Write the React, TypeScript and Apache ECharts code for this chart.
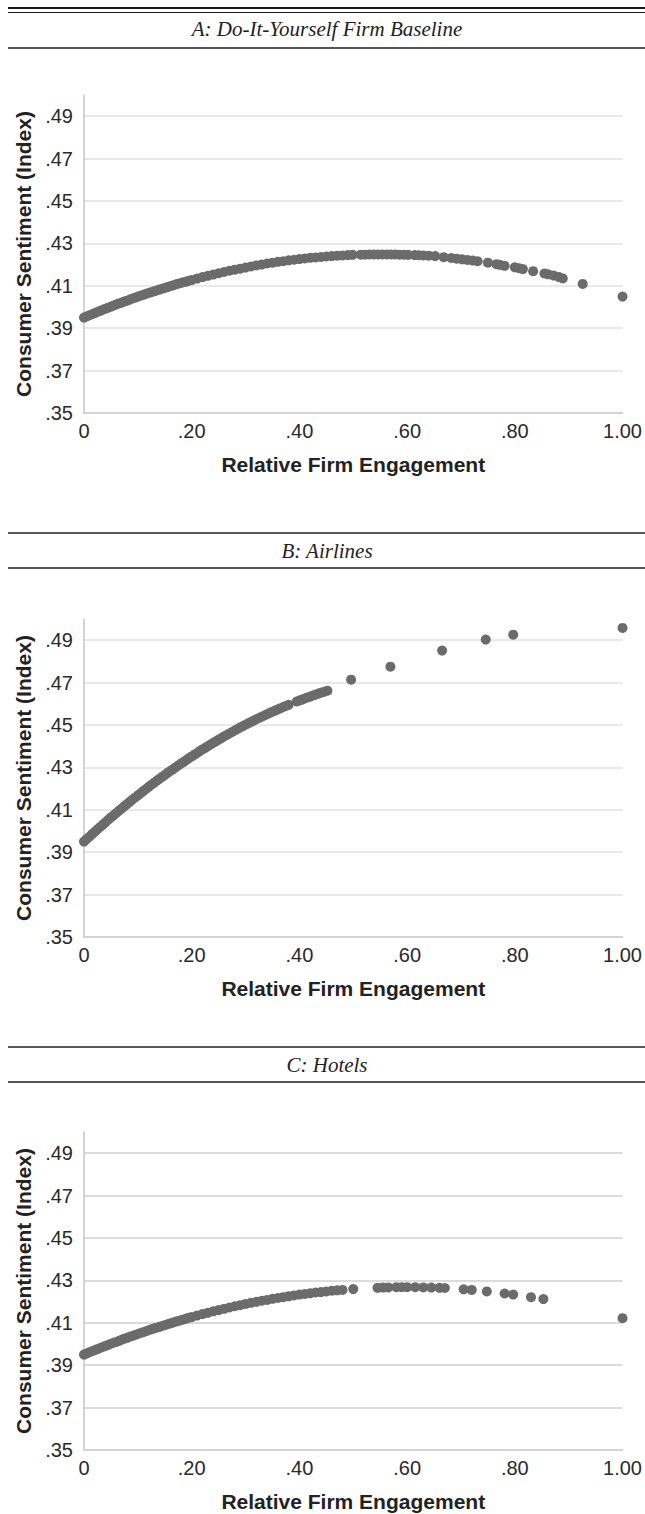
import React, { useEffect, useRef } from "react";
import * as echarts from "echarts";

const panelTitles = ["A: Do-It-Yourself Firm Baseline", "B: Airlines", "C: Hotels"];
const xAxisTitle = "Relative Firm Engagement";
const yAxisTitle = "Consumer Sentiment (Index)";
const yTickValues = [0.35, 0.37, 0.39, 0.41, 0.43, 0.45, 0.47, 0.49];
const xTickValues = [0, 0.2, 0.4, 0.6, 0.8, 1.0];

// Panel A: Do-It-Yourself Firm Baseline
const diyX = [
  0, 0.01, 0.02, 0.03, 0.04, 0.05, 0.06, 0.07, 0.08, 0.09,
  0.1, 0.11, 0.12, 0.13, 0.14, 0.15, 0.16, 0.17, 0.18, 0.19,
  0.2, 0.21, 0.22, 0.23, 0.24, 0.25, 0.26, 0.27, 0.28, 0.29,
  0.3, 0.31, 0.32, 0.33, 0.34, 0.35, 0.36, 0.37, 0.38, 0.39,
  0.4, 0.41, 0.42, 0.43, 0.44, 0.45, 0.46, 0.47, 0.48,
  0.005, 0.015, 0.025, 0.035, 0.045, 0.055, 0.065, 0.075, 0.085, 0.095,
  0.105, 0.115, 0.125, 0.135, 0.145, 0.155, 0.165, 0.175, 0.185, 0.195,
  0.49, 0.499, 0.514, 0.522, 0.53, 0.538, 0.546, 0.554, 0.562, 0.57,
  0.578, 0.586, 0.594, 0.602, 0.614, 0.622, 0.63, 0.64, 0.652, 0.668,
  0.682, 0.692, 0.702, 0.712, 0.722, 0.731, 0.75, 0.766, 0.772, 0.781,
  0.8, 0.808, 0.815, 0.834, 0.855, 0.862, 0.872, 0.882, 0.889, 0.926, 1.0,
];
const diyY = [
  0.395, 0.3961, 0.3971, 0.3982, 0.3992, 0.4002, 0.4012, 0.4021, 0.403, 0.404,
  0.4049, 0.4057, 0.4066, 0.4074, 0.4082, 0.409, 0.4098, 0.4106, 0.4113, 0.412,
  0.4127, 0.4134, 0.4141, 0.4147, 0.4153, 0.4159, 0.4165, 0.4171, 0.4176, 0.4181,
  0.4186, 0.4191, 0.4196, 0.42, 0.4205, 0.4209, 0.4213, 0.4216, 0.422, 0.4223,
  0.4226, 0.4229, 0.4232, 0.4234, 0.4236, 0.4238, 0.424, 0.4242, 0.4243,
  0.3955, 0.3966, 0.3977, 0.3987, 0.3997, 0.4007, 0.4017, 0.4026, 0.4035, 0.4044,
  0.4053, 0.4062, 0.407, 0.4078, 0.4086, 0.4094, 0.4102, 0.411, 0.4117, 0.4124,
  0.4245, 0.4246, 0.4247, 0.4247, 0.4248, 0.4248, 0.4248, 0.4248, 0.4248, 0.4248,
  0.4248, 0.4247, 0.4247, 0.4246, 0.4245, 0.4244, 0.4243, 0.4242, 0.424, 0.4235,
  0.4231, 0.4228, 0.4225, 0.4222, 0.4219, 0.4216, 0.4209, 0.4202, 0.4199, 0.4194,
  0.4187, 0.4183, 0.4179, 0.4169, 0.4158, 0.4154, 0.4148, 0.4141, 0.4135, 0.4109, 0.4049,
];

// Panel B: Airlines
const airX = [
  0, 0.005, 0.01, 0.015, 0.02, 0.025, 0.03, 0.035, 0.04, 0.045,
  0.05, 0.055, 0.06, 0.065, 0.07, 0.075, 0.08, 0.085, 0.09, 0.095,
  0.1, 0.105, 0.11, 0.115, 0.12, 0.125, 0.13, 0.135, 0.14, 0.145,
  0.15, 0.155, 0.16, 0.165, 0.17, 0.175, 0.18, 0.185, 0.19, 0.195,
  0.2, 0.205, 0.21, 0.215, 0.22, 0.225, 0.23, 0.235, 0.24, 0.245,
  0.25, 0.255, 0.26, 0.265, 0.27, 0.275, 0.28, 0.285, 0.29, 0.295,
  0.3, 0.305, 0.31, 0.315, 0.32, 0.325, 0.33, 0.335, 0.34, 0.345,
  0.35, 0.355, 0.36, 0.365, 0.37, 0.375, 0.38,
  0.395, 0.4, 0.405, 0.41, 0.415, 0.42, 0.425, 0.43, 0.435, 0.44, 0.445, 0.452,
  0.496, 0.569, 0.665, 0.746, 0.797, 1.0,
];
const airY = [
  0.395, 0.3962, 0.3973, 0.3985, 0.3996, 0.4008, 0.4019, 0.403, 0.4041, 0.4053,
  0.4064, 0.4074, 0.4085, 0.4096, 0.4106, 0.4117, 0.4127, 0.4138, 0.4148, 0.4158,
  0.4168, 0.4178, 0.4188, 0.4198, 0.4208, 0.4218, 0.4227, 0.4237, 0.4246, 0.4255,
  0.4264, 0.4274, 0.4283, 0.4291, 0.43, 0.4309, 0.4318, 0.4326, 0.4335, 0.4344,
  0.4352, 0.436, 0.4368, 0.4377, 0.4385, 0.4392, 0.44, 0.4408, 0.4416, 0.4423,
  0.4431, 0.4438, 0.4446, 0.4453, 0.446, 0.4467, 0.4474, 0.4481, 0.4488, 0.4495,
  0.4501, 0.4508, 0.4514, 0.4521, 0.4527, 0.4533, 0.4539, 0.4545, 0.4551, 0.4557,
  0.4563, 0.4568, 0.4574, 0.4579, 0.4585, 0.459, 0.4595,
  0.4611, 0.4615, 0.462, 0.4625, 0.463, 0.4634, 0.4639, 0.4643, 0.4648, 0.4652, 0.4656, 0.4662,
  0.4714, 0.4775, 0.4851, 0.4903, 0.4926, 0.4958,
];

// Panel C: Hotels
const hotelX = [
  0, 0.01, 0.02, 0.03, 0.04, 0.05, 0.06, 0.07, 0.08, 0.09,
  0.1, 0.11, 0.12, 0.13, 0.14, 0.15, 0.16, 0.17, 0.18, 0.19,
  0.2, 0.21, 0.22, 0.23, 0.24, 0.25, 0.26, 0.27, 0.28, 0.29,
  0.3, 0.31, 0.32, 0.33, 0.34, 0.35, 0.36, 0.37, 0.38, 0.39,
  0.4, 0.41, 0.42, 0.43, 0.44, 0.45, 0.46, 0.47, 0.48,
  0.005, 0.015, 0.025, 0.035, 0.045, 0.055, 0.065, 0.075, 0.085, 0.095,
  0.105, 0.115, 0.125, 0.135, 0.145, 0.155, 0.165, 0.175, 0.185, 0.195,
  0.5, 0.545, 0.555, 0.565, 0.58, 0.59, 0.6, 0.615, 0.63, 0.645,
  0.66, 0.67, 0.705, 0.72, 0.748, 0.781, 0.797, 0.83, 0.853, 1.0,
];
const hotelY = [
  0.395, 0.3961, 0.3971, 0.3981, 0.3991, 0.4001, 0.401, 0.402, 0.4029, 0.4038,
  0.4047, 0.4056, 0.4065, 0.4073, 0.4081, 0.4089, 0.4097, 0.4105, 0.4112, 0.412,
  0.4127, 0.4134, 0.4141, 0.4147, 0.4154, 0.416, 0.4166, 0.4172, 0.4178, 0.4183,
  0.4189, 0.4194, 0.4199, 0.4204, 0.4208, 0.4213, 0.4217, 0.4221, 0.4225, 0.4229,
  0.4233, 0.4236, 0.4239, 0.4243, 0.4245, 0.4248, 0.4251, 0.4253, 0.4255,
  0.3955, 0.3966, 0.3976, 0.3986, 0.3996, 0.4006, 0.4015, 0.4025, 0.4034, 0.4043,
  0.4052, 0.406, 0.4069, 0.4077, 0.4085, 0.4093, 0.4101, 0.4109, 0.4116, 0.4124,
  0.4259, 0.4265, 0.4266, 0.4267, 0.4268, 0.4268, 0.4268, 0.4268, 0.4267, 0.4266,
  0.4265, 0.4264, 0.4258, 0.4255, 0.4248, 0.4238, 0.4233, 0.4221, 0.4212, 0.4122,
];

const seriesX = [diyX, airX, hotelX];
const seriesY = [diyY, airY, hotelY];

// layout (not data)
const W = 645;
const H = 1514;
const GRID_LEFT = 84;
const GRID_RIGHT = 18;
const GRID_H = 318;
const gridTops = [95, 619, 1132];
const headerTopLines = [8, 533, 1047];
const headerBottomLines = [48, 568, 1082];
const headerTitleY = [29, 551, 1065];
const gridColors = ["#e2e2e2", "#e2e2e2", "#d0d0d0"];

const SANS = "'Liberation Sans', Arial, Helvetica, sans-serif";
const SERIF = "'Liberation Serif', 'Times New Roman', serif";

const fmtY = (v: number) => {
  if (v > 0.495) return "";
  return "." + Math.round(v * 100);
};
const fmtX = (v: number) => {
  if (Math.abs(v) < 1e-9) return "0";
  if (v > 0.999) return "1.00";
  return "." + String(Math.round(v * 100)).padStart(2, "0");
};

export default function App() {
  const ref = useRef<HTMLDivElement>(null);
  useEffect(() => {
    if (!ref.current) return;
    const chart = echarts.init(ref.current, undefined, { renderer: "svg" });

    const grids = gridTops.map((t) => ({
      left: GRID_LEFT,
      right: GRID_RIGHT,
      top: t,
      height: GRID_H,
      containLabel: false,
    }));

    const xAxes = gridTops.map((_, i) => ({
      type: "value",
      gridIndex: i,
      min: xTickValues[0],
      max: xTickValues[xTickValues.length - 1],
      interval: 0.2,
      axisLine: { show: true, onZero: false, lineStyle: { color: "#c6c6c6", width: 1.5 } },
      axisTick: { show: false },
      splitLine: { show: false },
      axisLabel: {
        formatter: fmtX,
        fontSize: 20,
        color: "#2a2a2a",
        fontFamily: SANS,
        margin: 8,
      },
      name: xAxisTitle,
      nameLocation: "middle",
      nameGap: 41,
      nameTextStyle: { fontSize: 21, fontWeight: "bold", color: "#222", fontFamily: SANS },
    }));

    const yAxes = gridTops.map((_, i) => ({
      type: "value",
      gridIndex: i,
      min: yTickValues[0],
      max: 0.5,
      interval: 0.02,
      axisLine: { show: true, lineStyle: { color: "#c6c6c6", width: 1.5 } },
      axisTick: { show: false },
      splitLine: {
        show: true,
        showMinLine: false,
        showMaxLine: false,
        lineStyle: { color: gridColors[i], width: 1.5 },
      },
      axisLabel: {
        formatter: fmtY,
        fontSize: 20,
        color: "#2a2a2a",
        fontFamily: SANS,
        margin: 11,
        showMaxLabel: false,
      },
      name: yAxisTitle,
      nameLocation: "middle",
      nameGap: 50,
      nameTextStyle: { fontSize: 21, fontWeight: "bold", color: "#222", fontFamily: SANS },
    }));

    const series = seriesX.map((xs, i) => ({
      type: "scatter",
      xAxisIndex: i,
      yAxisIndex: i,
      symbol: "circle",
      symbolSize: 10,
      itemStyle: { color: "#6b6b6b", opacity: 1 },
      data: xs.map((x, j) => [x, seriesY[i][j]]),
      silent: true,
    }));

    const graphic: any[] = [];
    graphic.push({
      type: "line",
      shape: { x1: 8, y1: headerTopLines[0], x2: W, y2: headerTopLines[0] },
      style: { stroke: "#1a1a1a", lineWidth: 2 },
    });
    graphic.push({
      type: "line",
      shape: { x1: 8, y1: headerTopLines[0] + 4.5, x2: W, y2: headerTopLines[0] + 4.5 },
      style: { stroke: "#1a1a1a", lineWidth: 1 },
    });
    for (let i = 1; i < 3; i++) {
      graphic.push({
        type: "line",
        shape: { x1: 8, y1: headerTopLines[i], x2: W, y2: headerTopLines[i] },
        style: { stroke: "#222", lineWidth: 1.5 },
      });
    }
    for (let i = 0; i < 3; i++) {
      graphic.push({
        type: "line",
        shape: { x1: 8, y1: headerBottomLines[i], x2: W, y2: headerBottomLines[i] },
        style: { stroke: "#555", lineWidth: 2 },
      });
      graphic.push({
        type: "text",
        x: 327,
        y: headerTitleY[i],
        style: {
          text: panelTitles[i],
          fontFamily: SERIF,
          fontStyle: "italic",
          fontSize: 21,
          fill: "#222",
          textAlign: "center",
          textVerticalAlign: "middle",
        },
      });
    }

    chart.setOption({
      animation: false,
      backgroundColor: "#ffffff",
      grid: grids,
      xAxis: xAxes,
      yAxis: yAxes,
      series,
      graphic,
    });
    return () => chart.dispose();
  }, []);

  return (
    <div
      ref={ref}
      style={{ position: "absolute", left: 0, top: 0, width: W, height: H, background: "#fff" }}
    />
  );
}
